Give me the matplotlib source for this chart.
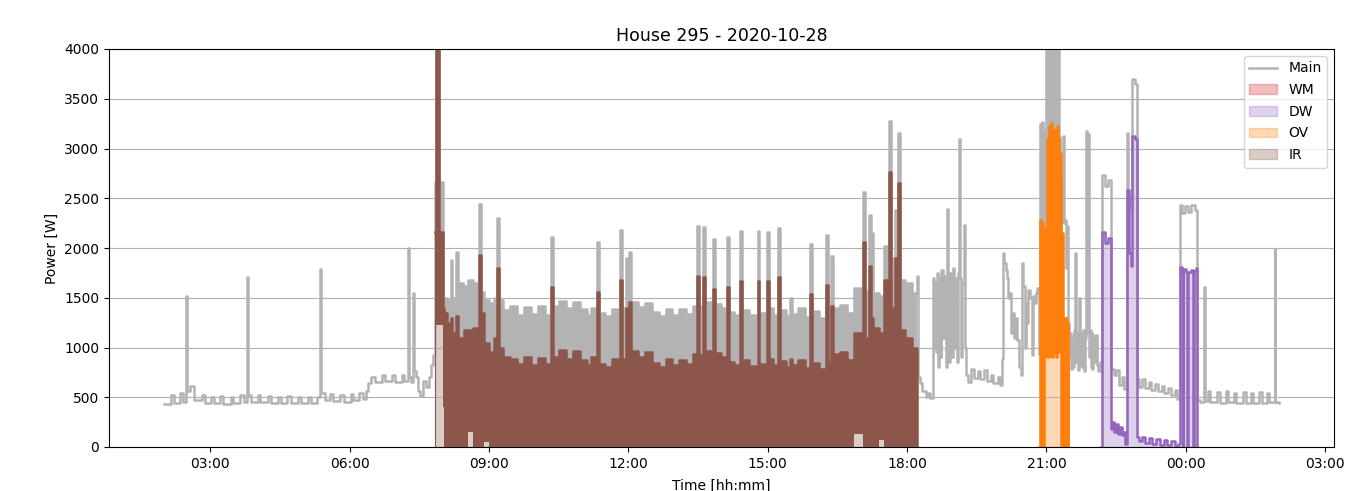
import numpy as np
import matplotlib
matplotlib.use('Agg')
import matplotlib.pyplot as plt
import matplotlib.dates as mdates

day = '2020-10-28'
house = 295

# main meter before the irrigation pump starts (hour of day, W)
main_morning = [
    (2.00, 430), (2.15, 520), (2.22, 440), (2.35, 545), (2.42, 450), (2.48, 1515), (2.50, 560),
    (2.57, 610), (2.66, 470), (2.82, 520), (2.88, 445), (3.02, 505), (3.08, 440), (3.22, 510),
    (3.28, 435), (3.44, 505), (3.50, 440), (3.65, 520), (3.72, 450), (3.80, 1710), (3.82, 520),
    (3.88, 450), (4.02, 525), (4.08, 455), (4.24, 515), (4.30, 445), (4.45, 500), (4.52, 440),
    (4.66, 510), (4.73, 445), (4.88, 500), (4.95, 440), (5.10, 505), (5.17, 440), (5.30, 500),
    (5.36, 1790), (5.38, 540), (5.48, 470), (5.58, 535), (5.65, 460), (5.80, 525), (5.87, 455),
    (6.02, 530), (6.08, 470), (6.20, 540), (6.28, 480), (6.35, 560), (6.40, 640), (6.45, 700),
    (6.55, 650), (6.70, 720), (6.77, 660), (6.92, 720), (6.98, 655), (7.12, 725), (7.18, 660),
    (7.25, 2005), (7.27, 700), (7.33, 650), (7.37, 1545), (7.39, 760), (7.42, 700), (7.47, 560),
    (7.52, 510), (7.58, 660), (7.64, 600), (7.70, 700), (7.76, 820), (7.80, 920),
]

# IR cycling very fast: hour, main top, IR top, IR bottom
ir_period = [
    (7.84, 2667, 2160, 0), (7.86, 4100, 4100, 1230), (7.92, 2667, 2160, 1230), (8.00, 1500, 1400, 400),
    (8.04, 1500, 1350, 0), (8.10, 1480, 1250, 0), (8.18, 1880, 1300, 0), (8.21, 1500, 1150, 0),
    (8.30, 1963, 1320, 0), (8.33, 1650, 1100, 0), (8.43, 1567, 1100, 0), (8.46, 1620, 1180, 0),
    (8.55, 1680, 1180, 150), (8.65, 1650, 1200, 0), (8.78, 2440, 1930, 0), (8.82, 1560, 1350, 0),
    (8.90, 1480, 1050, 50), (9.00, 1450, 950, 0), (9.10, 1500, 1100, 0), (9.17, 2305, 1800, 0),
    (9.21, 1480, 1000, 0), (9.30, 1380, 900, 0), (9.45, 1420, 880, 0), (9.60, 1330, 830, 0),
    (9.75, 1410, 900, 0), (9.90, 1340, 820, 0), (10.05, 1420, 890, 0), (10.20, 1330, 830, 0),
    (10.33, 2114, 1611, 0), (10.37, 1420, 900, 0), (10.50, 1470, 970, 0), (10.65, 1400, 880, 0),
    (10.80, 1460, 960, 0), (10.95, 1390, 870, 0), (11.10, 1330, 820, 0), (11.20, 1400, 900, 0),
    (11.32, 2064, 1555, 0), (11.36, 1350, 830, 0), (11.50, 1320, 800, 0), (11.65, 1390, 880, 0),
    (11.82, 2181, 1678, 0), (11.86, 1400, 880, 0), (11.94, 1900, 1400, 0), (11.97, 1420, 920, 0),
    (12.01, 1963, 1460, 0), (12.05, 1460, 960, 0), (12.20, 1410, 900, 0), (12.35, 1450, 950, 0),
    (12.50, 1360, 840, 0), (12.65, 1320, 800, 0), (12.80, 1390, 880, 0), (12.95, 1330, 820, 0),
    (13.10, 1390, 870, 0), (13.25, 1340, 830, 0), (13.40, 1420, 930, 0), (13.47, 2221, 1719, 0),
    (13.51, 1420, 920, 0), (13.61, 2208, 1705, 0), (13.65, 1460, 960, 0), (13.83, 2087, 1588, 0),
    (13.87, 1440, 940, 0), (14.00, 1400, 900, 0), (14.12, 2114, 1611, 0), (14.16, 1360, 850, 0),
    (14.28, 1330, 820, 0), (14.40, 2171, 1672, 0), (14.44, 1380, 870, 0), (14.60, 1330, 810, 0),
    (14.78, 2171, 1672, 0), (14.82, 1350, 830, 0), (14.99, 2164, 1665, 0), (15.03, 1400, 880, 0),
    (15.12, 1330, 820, 0), (15.22, 2204, 1705, 0), (15.26, 1380, 860, 0), (15.40, 1320, 800, 0),
    (15.48, 1500, 880, 0), (15.52, 1340, 820, 0), (15.65, 1400, 870, 0), (15.80, 1310, 790, 0),
    (15.91, 2040, 1538, 0), (15.95, 1370, 840, 0), (16.10, 1300, 780, 0), (16.25, 2130, 1628, 0),
    (16.29, 1330, 830, 0), (16.36, 1920, 1420, 0), (16.40, 1400, 930, 0), (16.55, 1430, 950, 0),
    (16.70, 1350, 870, 0), (16.85, 1600, 1150, 130), (17.05, 2566, 2064, 0), (17.09, 1570, 1100, 0),
    (17.17, 2330, 1822, 0), (17.22, 2147, 1300, 0), (17.26, 1550, 1200, 0), (17.40, 1520, 1150, 70),
    (17.50, 2020, 1680, 0), (17.58, 1700, 1250, 0), (17.62, 3276, 2767, 0), (17.66, 1900, 1400, 0),
    (17.74, 2380, 1900, 0), (17.78, 1750, 1350, 0), (17.81, 3152, 2650, 0), (17.85, 1680, 1180, 0),
    (17.96, 1650, 1100, 0), (18.10, 1550, 1000, 0), (18.22, 1717, 0, 0),
]

# main meter in the evening (hour of day, W)
main_evening = [
    (18.24, 700), (18.27, 640), (18.32, 560), (18.40, 500), (18.45, 540), (18.50, 490),
    (18.56, 1700), (18.58, 1000), (18.60, 1650), (18.62, 950), (18.64, 1750), (18.67, 800),
    (18.69, 1700), (18.72, 900), (18.74, 1780), (18.77, 1100), (18.80, 1720), (18.83, 800),
    (18.85, 2389), (18.87, 1650), (18.89, 850), (18.92, 1750), (18.95, 900), (18.98, 1800),
    (19.01, 1000), (19.04, 1700), (19.07, 850), (19.09, 1750), (19.12, 3095), (19.14, 1700),
    (19.17, 900), (19.19, 1650), (19.22, 2231), (19.24, 1000), (19.27, 720), (19.32, 650),
    (19.38, 780), (19.43, 690), (19.52, 760), (19.57, 680), (19.66, 770), (19.71, 660),
    (19.80, 720), (19.86, 640), (19.95, 700), (20.00, 620), (20.04, 880), (20.06, 1950),
    (20.09, 1850), (20.12, 1780), (20.15, 1700), (20.18, 1500), (20.21, 1550), (20.24, 1150),
    (20.27, 1350), (20.31, 1100), (20.34, 1300), (20.37, 1080), (20.40, 800), (20.45, 720),
    (20.48, 1850), (20.50, 1620), (20.53, 1000), (20.55, 1450), (20.58, 1250), (20.61, 1580),
    (20.65, 1500), (20.68, 920), (20.70, 1520), (20.74, 1450), (20.77, 1550), (20.80, 1600),
    (20.83, 930), (20.86, 3250), (20.88, 1500), (20.90, 3270), (20.92, 1500), (20.94, 3180),
    (20.96, 1200), (20.98, 3100), (21.00, 4300), (21.02, 1200), (21.04, 4300), (21.06, 1200),
    (21.08, 4300), (21.10, 1300), (21.12, 4300), (21.14, 1200), (21.16, 4300), (21.18, 1300),
    (21.20, 4300), (21.22, 1200), (21.24, 4300), (21.26, 1800), (21.28, 3120), (21.30, 1750),
    (21.32, 2250), (21.34, 2700), (21.36, 3130), (21.38, 2250), (21.40, 2280), (21.42, 1800),
    (21.44, 2220), (21.46, 1250),
]

# main meter at night, into the next day (hour, W)
main_night = [
    (21.49, 900), (21.51, 1150), (21.53, 780), (21.55, 1100), (21.57, 800), (21.59, 1180),
    (21.62, 1950), (21.64, 850), (21.66, 1150), (21.68, 770), (21.70, 1500), (21.72, 820),
    (21.74, 1150), (21.76, 800), (21.78, 1180), (21.80, 760), (21.82, 1100), (21.85, 3180),
    (21.87, 1150), (21.89, 3150), (21.91, 900), (21.93, 1180), (21.95, 800), (21.97, 1150),
    (21.99, 780), (22.01, 1100), (22.03, 850), (22.05, 1130), (22.08, 820), (22.12, 760),
    (22.16, 850), (22.19, 2730), (22.25, 2620), (22.33, 2680), (22.38, 780), (22.45, 720),
    (22.50, 770), (22.56, 620), (22.62, 700), (22.66, 580), (22.73, 3160), (22.76, 2520),
    (22.80, 2400), (22.85, 3700), (22.90, 3650), (22.94, 680), (23.00, 600), (23.06, 680),
    (23.12, 590), (23.20, 650), (23.26, 570), (23.34, 630), (23.40, 560), (23.48, 610),
    (23.54, 540), (23.62, 590), (23.68, 520), (23.76, 570), (23.82, 480), (23.88, 2430),
    (23.92, 2350), (23.98, 2420), (24.05, 2360), (24.12, 2430), (24.20, 2380), (24.24, 470),
    (24.30, 450), (24.40, 1605), (24.42, 460), (24.48, 560), (24.53, 450), (24.68, 550),
    (24.73, 445), (24.86, 560), (24.91, 450), (25.04, 545), (25.09, 440), (25.24, 550),
    (25.29, 445), (25.40, 540), (25.45, 440), (25.58, 550), (25.63, 445), (25.75, 540),
    (25.80, 450), (25.91, 1990), (25.93, 450), (26.00, 440),
]

# oven (hour, W)
ov_run = [
    (20.85, 0), (20.86, 2280), (20.88, 0), (20.90, 2250), (20.92, 0), (20.94, 2200), (20.96, 900),
    (20.98, 2100), (21.00, 950), (21.02, 3100), (21.04, 900), (21.06, 3230), (21.08, 920),
    (21.10, 3260), (21.12, 900), (21.14, 3200), (21.16, 950), (21.18, 3180), (21.20, 900),
    (21.22, 3230), (21.24, 950), (21.26, 3100), (21.28, 1300), (21.30, 2950), (21.32, 0),
    (21.34, 2150), (21.36, 0), (21.38, 1300), (21.40, 0), (21.42, 1300), (21.44, 0),
    (21.46, 1250), (21.47, 0),
]

# dishwasher (hour, W)
dw_run = [
    (22.18, 0), (22.19, 2160), (22.25, 2050), (22.33, 2100), (22.38, 180), (22.42, 250), (22.46, 150),
    (22.50, 230), (22.54, 130), (22.58, 200), (22.62, 120), (22.66, 150), (22.70, 30),
    (22.73, 2580), (22.78, 1950), (22.82, 1820), (22.85, 3130), (22.90, 3100), (22.94, 100),
    (23.00, 60), (23.06, 100), (23.12, 40), (23.20, 90), (23.28, 30), (23.36, 80),
    (23.44, 20), (23.52, 70), (23.60, 20), (23.68, 60), (23.76, 10), (23.84, 30),
    (23.88, 1810), (23.91, 1760), (23.93, 0), (23.95, 1790), (24.00, 1760), (24.03, 0),
    (24.05, 1760), (24.12, 1780), (24.15, 0), (24.17, 1770), (24.22, 1800), (24.24, 0),
]

# washing machine did not run this day
wm_run = []


def to_x(hours):
    # hours since midnight -> matplotlib date number
    return mdates.date2num(np.datetime64(day)) + np.asarray(hours, dtype=float) / 24


fig = plt.figure(figsize=(13.53, 4.91), dpi=100)
ax = fig.add_axes([109 / 1353, 1 - 447 / 491, (1334 - 109) / 1353, (447 - 49) / 491])

grey = '#b3b3b3'
lw = 1.8

mh, mw = np.array(main_morning).T
bh, b_main, b_ir, b_irlo = np.array(ir_period).T
eh, ew = np.array(main_evening).T
nh, nw = np.array(main_night).T
bx = to_x(bh)

# main meter
main_x = to_x(np.concatenate([mh, bh, eh, nh]))
main_y = np.concatenate([mw, b_main, ew, nw])
main_line, = ax.plot(main_x, main_y, color=grey, lw=lw, drawstyle='steps-post', label='Main')
ax.fill_between(bx, b_irlo, b_main, step='post', color=grey, lw=0, zorder=2)

# appliances
wm_fill = ax.fill_between(wm_run, wm_run, color='tab:red', alpha=0.3, label='WM')

dh, dw = np.array(dw_run).T
dw_fill = ax.fill_between(to_x(dh), 0, dw, step='post', color='tab:purple', alpha=0.3, label='DW')
ax.plot(to_x(dh), dw, color='tab:purple', lw=lw, drawstyle='steps-post')

oh, ow = np.array(ov_run).T
ov_fill = ax.fill_between(to_x(oh), 0, ow, step='post', color='tab:orange', alpha=0.3, label='OV')
ax.plot(to_x(oh), ow, color='tab:orange', lw=lw, drawstyle='steps-post')

ir_fill = ax.fill_between(bx, 0, b_ir, step='post', color='tab:brown', alpha=0.3, label='IR')
ax.fill_between(bx, b_irlo, b_ir, step='post', color='tab:brown', lw=0, zorder=2)
ax.plot(bx, b_ir, color='tab:brown', lw=lw, drawstyle='steps-post')

ax.set_xlim(to_x(0.82), to_x(27.19))
ax.set_ylim(0, 4000)
ax.xaxis.set_major_locator(mdates.HourLocator(byhour=range(0, 24, 3)))
ax.xaxis.set_major_formatter(mdates.DateFormatter('%H:%M'))
ax.grid(axis='y')

ax.set_title('House %d - %s' % (house, day), fontsize=12.5)
ax.set_xlabel('Time [hh:mm]', labelpad=6)
ax.set_ylabel('Power [W]')
ax.legend([main_line, wm_fill, dw_fill, ov_fill, ir_fill], ['Main', 'WM', 'DW', 'OV', 'IR'],
          loc='upper right', labelspacing=0.55)

fig.savefig('out.png', dpi=100)
